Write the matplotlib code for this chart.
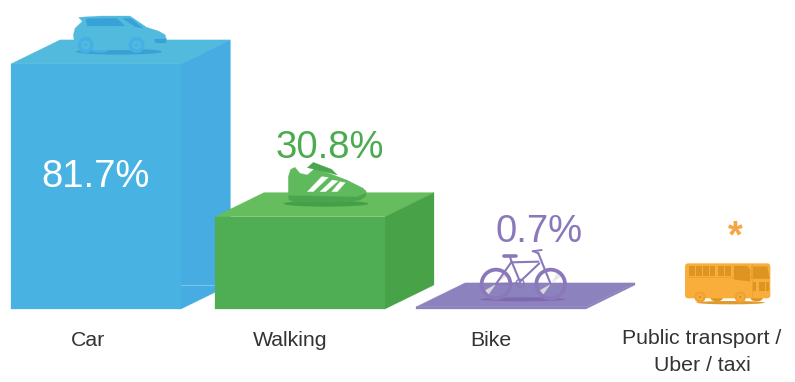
#!/usr/bin/env python3

import matplotlib
matplotlib.use("Agg")
import matplotlib.pyplot as plt
from matplotlib.patches import Polygon, Ellipse, Circle, FancyBboxPatch, Wedge, Rectangle

plt.rcParams["font.family"] = ["Liberation Sans", "DejaVu Sans"]

categories = ["Car", "Walking", "Bike", "Public transport /\nUber / taxi"]
values = [81.7, 30.8, 0.7, None]
value_labels = ["81.7%", "30.8%", "0.7%", "*"]

front_colors = ["#48B3E3", "#4FAE54", "#8C83BE", None]
top_colors = ["#52BBDD", "#66BD5E", "#8C83BE", None]
side_colors = ["#46ACE2", "#48A348", "#8C83BE", None]
text_colors = ["white", "#4CAB50", "#8A78BB", "#F6A640"]

BASE = 309      # baseline, pixels
PX_PER_PCT = 3.0
BAR_W = 170
DX, DY = 49, 24

bar_left = [11, 215, 416, None]
label_x = [88, 290, 491, 702]
value_x = [96, 330, 539, 735]
value_y = [177, 148, 232, 237]

fig = plt.figure(figsize=(7.95, 3.82), dpi=100)
ax = fig.add_axes([0, 0, 1, 1])
ax.set_xlim(0, 795)
ax.set_ylim(382, 0)
ax.axis("off")


def poly(pts, color, z=3, ox=0, oy=0, k=1.0):
    ax.add_patch(Polygon([(ox + x * k, oy + y * k) for x, y in pts], closed=True,
                         facecolor=color, edgecolor=color, lw=0.2, zorder=z))


def draw_box(left, value, front, top, side, z):
    h = value * PX_PER_PCT
    right = left + BAR_W
    y = BASE - h
    poly([(left, y), (left + DX, y - DY), (right + DX, y - DY), (right, y)], top, z)
    poly([(right, y), (right + DX, y - DY), (right + DX, BASE - DY), (right, BASE)], side, z)
    ax.add_patch(Rectangle((left, y), BAR_W, h, facecolor=front, edgecolor=front, lw=0.2, zorder=z))


def draw_car():
    ox, oy, k = 0, 0, 1 / 3
    ax.add_patch(Ellipse((357 * k, 155 * k), 258 * k, 18 * k, color="#3B9FD4", lw=0, zorder=6))
    ax.add_patch(Ellipse((300 * k, 150 * k), 50 * k, 16 * k, color="#46B0E5", lw=0, zorder=6.5))
    poly([(236, 52), (300, 48), (390, 48), (440, 82), (475, 93), (495, 104), (501, 122), (495, 142),
          (400, 150), (245, 150), (224, 130), (220, 105), (225, 85), (247, 64)], "#52BBDD", 7, ox, oy, k)
    poly([(258, 60), (262, 56), (350, 55), (375, 78), (262, 78)], "#36A2D8", 8, ox, oy, k)
    poly([(368, 55), (392, 55), (430, 85), (405, 80)], "#36A2D8", 8, ox, oy, k)
    poly([(463, 117), (498, 117), (498, 128), (468, 128)], "#36A2D8", 8, ox, oy, k)
    for cx in (257, 410):
        ax.add_patch(Circle((cx * k, 135 * k), 24 * k, color="#46B0E5", lw=0, zorder=8))
        ax.add_patch(Circle((cx * k, 135 * k), 13 * k, color="#52BBDD", lw=0, zorder=9))
        ax.add_patch(Circle((cx * k, 135 * k), 5 * k, color="#46B0E5", lw=0, zorder=10))


def draw_shoe():
    ox, oy, k = 200, 120, 1 / 3
    ax.add_patch(Ellipse((ox + 378 * k, oy + 251 * k), 255 * k, 18 * k, color="#43A047", lw=0, zorder=6))
    poly([(265, 225), (498, 212), (498, 228), (480, 240), (440, 246), (285, 246), (267, 240)], "#4BA54F", 7, ox, oy, k)
    poly([(265, 170), (272, 148), (285, 142), (300, 160), (322, 165), (345, 145), (400, 165),
          (440, 180), (490, 205), (500, 218), (470, 230), (265, 226)], "#5FB95D", 8, ox, oy, k)
    poly([(322, 143), (340, 127), (395, 148), (412, 165), (385, 158)], "#4BA54F", 9, ox, oy, k)
    for pts in ([(322, 215), (365, 170), (385, 172), (340, 215)],
                [(360, 215), (397, 180), (414, 183), (377, 215)],
                [(395, 215), (420, 185), (436, 188), (412, 215)]):
        poly(pts, "white", 10, ox, oy, k)


def draw_bike():
    ox, oy, k = 410, 200, 1 / 3
    c = "#8A78BB"
    ax.add_patch(Ellipse((ox + 338 * k, oy + 298 * k), 255 * k, 12 * k, color="#8068B0", lw=0, zorder=6))
    for cx in (258, 422):
        x, y = ox + cx * k, oy + 252 * k
        ax.add_patch(Wedge((x, y), 42 * k, -60, -35, color="#EDE9E6", lw=0, zorder=7))
        ax.add_patch(Wedge((x, y), 42 * k, 125, 150, color="#D9D6D9", lw=0, zorder=7))
        ax.add_patch(Circle((x, y), 43 * k, facecolor="none", edgecolor=c, lw=2.7, zorder=8))
    segs = [[(258, 252), (305, 185)], [(305, 185), (330, 245)], [(305, 187), (385, 185)],
            [(330, 245), (388, 190)], [(422, 252), (385, 160)], [(258, 252), (330, 250)],
            [(300, 170), (305, 187)], [(385, 160), (370, 153)]]
    for seg in segs:
        ax.plot([ox + p[0] * k for p in seg], [oy + p[1] * k for p in seg], color=c, lw=1.5,
                solid_capstyle="round", zorder=9)
    ax.plot([ox + 283 * k, ox + 318 * k], [oy + 167 * k, oy + 167 * k], color=c, lw=2.6,
            solid_capstyle="round", zorder=9)
    ax.plot([ox + 368 * k, ox + 395 * k], [oy + 154 * k, oy + 150 * k], color=c, lw=1.4,
            solid_capstyle="round", zorder=9)
    ax.add_patch(Circle((ox + 330 * k, oy + 250 * k), 12 * k, facecolor="none", edgecolor=c, lw=1.0, zorder=9))


def draw_bus():
    ox, oy, k = 660, 210, 1 / 3
    dark = "#DE9420"
    ax.add_patch(Ellipse((ox + 212 * k, oy + 278 * k), 205 * k, 10 * k, color="#E09A2C", lw=0, zorder=6))
    for cx in (170, 290):
        ax.add_patch(Ellipse((ox + cx * k, oy + 265 * k), 36 * k, 18 * k, color=dark, lw=0, zorder=6))
    ax.add_patch(FancyBboxPatch((ox + 78 * k, oy + 163 * k), 250 * k, 99 * k,
                                boxstyle=f"round,pad={3 * k},rounding_size={10 * k}",
                                facecolor="#F9AE3C", edgecolor="none", zorder=7))
    for wx, ww in [(87, 18), (108, 17), (128, 18), (150, 15), (174, 18), (195, 18)]:
        ax.add_patch(Rectangle((ox + wx * k, oy + 168 * k), ww * k, 30 * k, color=dark, lw=0, zorder=8))
    ax.add_patch(Rectangle((ox + 85 * k, oy + 201 * k), 190 * k, 3 * k, color="#EFA233", lw=0, zorder=8))
    poly([(222, 168), (262, 168), (270, 180), (270, 214), (222, 208)], dark, 8, ox, oy, k)
    poly([(275, 170), (322, 170), (328, 206), (275, 206)], dark, 8, ox, oy, k)
    ax.add_patch(Rectangle((ox + 275 * k, oy + 163 * k), 3 * k, 100 * k, color="#EFA233", lw=0, zorder=8))
    for wx, ww in [(280, 8), (297, 18), (319, 8)]:
        ax.add_patch(Rectangle((ox + wx * k, oy + 216 * k), ww * k, 28 * k, color=dark, lw=0, zorder=8))
    for cx in (120, 241):
        ax.add_patch(Circle((ox + cx * k, oy + 261 * k), 17 * k, color="#EFA233", lw=0, zorder=9))
        ax.add_patch(Circle((ox + cx * k, oy + 261 * k), 10 * k, color="#F9AE3C", lw=0, zorder=10))
        ax.add_patch(Circle((ox + cx * k, oy + 261 * k), 4 * k, color=dark, lw=0, zorder=11))


for i, v in enumerate(values):
    if v is not None:
        draw_box(bar_left[i], v, front_colors[i], top_colors[i], side_colors[i], 3 + (i == 1))

# light rule left on the car's side
ax.plot([181, 215], [284.5, 284.5], color="#7CC4EA", lw=0.8, zorder=3.5)
ax.plot([230.3, 230.3], [40, 285], color="#8FD0F0", lw=0.7, zorder=3.5)

draw_car()
draw_shoe()
draw_bike()
draw_bus()

for i, name in enumerate(categories):
    ax.text(label_x[i], 340 if i < 3 else 352, name, ha="center", va="center", fontsize=15.3,
            color="#333333", linespacing=1.5, zorder=12)
    ax.text(value_x[i], value_y[i], value_labels[i], ha="center", va="center", fontsize=27.5,
            color=text_colors[i], fontweight="bold" if i == 3 else "normal", zorder=12)

fig.savefig("out.png", dpi=100)
